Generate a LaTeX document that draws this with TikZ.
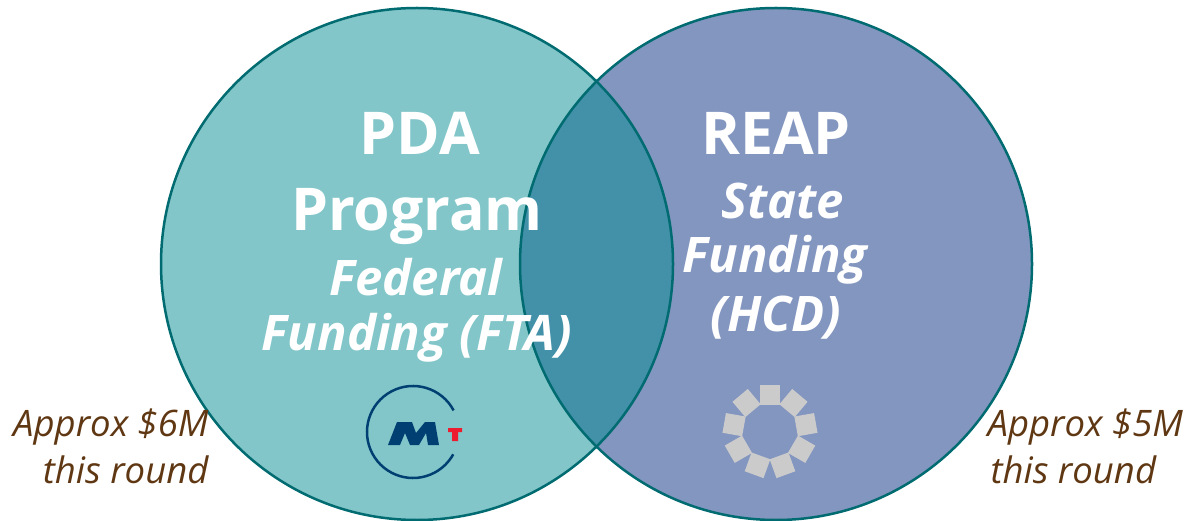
\documentclass[tikz,border=0pt]{standalone}
\usepackage{fontspec}
\setmainfont{Open Sans}
\usetikzlibrary{calc}
\definecolor{leftfill}{HTML}{82C6C9}
\definecolor{rightfill}{HTML}{8396C0}
\definecolor{overlapfill}{HTML}{4291A9}
\definecolor{ringline}{HTML}{006B70}
\definecolor{moneytext}{HTML}{5F3712}
\definecolor{mtcblue}{HTML}{003F72}
\definecolor{mtcred}{HTML}{ED1C2E}
\definecolor{hcdgrey}{HTML}{CBCBCB}
\tikzset{
	bigtext/.style={text=white, font=\fontsize{59}{59}\selectfont\bfseries},
	subtext/.style={text=white, font=\fontsize{49}{49}\selectfont\bfseries\itshape},
	moneylabel/.style={text=moneytext, font=\fontsize{36.5}{36.5}\selectfont\itshape},
	gearbox/.style={fill=hcdgrey, minimum size=20pt, inner sep=0pt},
}
\begin{document}
\begin{tikzpicture}[x=1pt, y=1pt]
\useasboundingbox (0,0) rectangle (1186,520);
\coordinate (pda) at (417,256);
\coordinate (reap) at (776,256);
\coordinate (gear) at (770,89);
% circles and their overlap
\fill[leftfill] (pda) circle (256);
\fill[rightfill] (reap) circle (256);
\begin{scope}
\clip (pda) circle (256);
\fill[overlapfill] (reap) circle (256);
\end{scope}
\draw[ringline, line width=2.5pt] (pda) circle (256);
\draw[ringline, line width=2.5pt] (reap) circle (256);
% left side
\node[bigtext] (pdatitle) at (420,387) {PDA};
\node[bigtext] (program) at (417,303) {Program};
\node[subtext] (federal) at (416,243) {Federal};
\node[subtext] (fta) at (417,182) {Funding (FTA)};
% right side
\node[bigtext] (reaptitle) at (776,387) {REAP};
\node[subtext] (state) at (783,319) {State};
\node[subtext] (funding) at (775,260) {Funding};
\node[subtext] (hcd) at (776,202) {(HCD)};
% amounts
\node[moneylabel, anchor=east] (sixm) at (212,93) {Approx \$6M};
\node[moneylabel, anchor=east] (sixround) at (212,50) {this round};
\node[moneylabel, anchor=west] (fivem) at (984,93) {Approx \$5M};
\node[moneylabel, anchor=west] (fiveround) at (987,50) {this round};
% transit logo
\draw[mtcblue, line width=2.5pt] (413,88) ++(28:46) arc (28:331:46);
\fill[mtcblue] (388,75) -- (397,98) -- (412,98) -- (416,87) -- (425,98) -- (435,98) -- (439,75) -- (428,75) -- (426,87) -- (419,75) -- (410,75) -- (405,87) -- (400,75) -- cycle;
\fill[mtcred] (448,92) -- (462,92) -- (462,88) -- (458,88) -- (458,79) -- (452,79) -- (452,88) -- (448,88) -- cycle;
% state logo
\foreach \a in {90,130,...,410} {
	\node[gearbox, rotate=\a-90] at ($(gear)+(\a:36.5)$) {};
}
\end{tikzpicture}
\end{document}
